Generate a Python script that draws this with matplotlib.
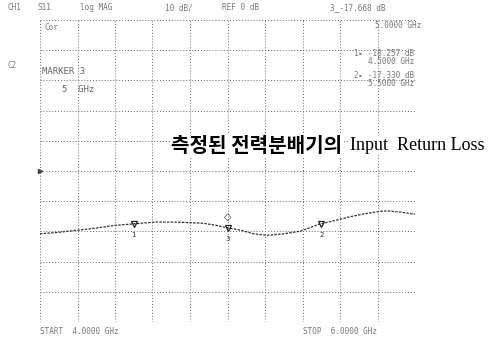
import matplotlib
matplotlib.use("Agg")
import matplotlib.pyplot as plt

# -----------------------------------------------------------------------------
# data (S11, 4 - 6 GHz)

freq_ghz = [4.00, 4.10, 4.20, 4.30, 4.40, 4.50, 4.62, 4.70, 4.80, 4.87, 4.94,
            5.00, 5.07, 5.14, 5.21, 5.30, 5.39, 5.49, 5.58, 5.65, 5.72, 5.80,
            5.85, 5.92, 6.00]
s11_db = [-20.8, -20.3, -19.6, -18.9, -18.0, -17.5, -16.9, -16.9, -17.1, -17.3,
          -18.0, -18.8, -19.6, -20.8, -21.3, -20.8, -19.9, -17.6, -16.3, -15.2,
          -14.3, -13.5, -13.2, -13.6, -14.3]

marker_ids = ["1", "2", "3"]
marker_freq = [4.5, 5.5, 5.0]
marker_db = [-17.5, -17.6, -18.8]

ref_level = 0
db_per_div = 10
start_ghz = 4.0
stop_ghz = 6.0

header = ["CH1", "S11", "log MAG", "10 dB/", "REF 0 dB", "3_-17.668 dB"]
marker_readout = ["1\u25b8 -18.257 dB", "4.5000 GHz", "2\u25b8 -17.330 dB", "5.5000 GHz"]
title_ko = "측정된 전력분배기의"
title_en = "Input  Return Loss"

W, H = 489, 340


def px(x, y):
    return x / W, 1 - y / H


fig = plt.figure(figsize=(W / 100, H / 100), dpi=100)
ax = fig.add_axes([40 / W, 1 - 322 / H, 375 / W, 302 / H])

# grid, 10 x 10 divisions
xt = [start_ghz + i * (stop_ghz - start_ghz) / 10 for i in range(11)]
yt = [ref_level + (i - 5) * db_per_div for i in range(11)]
for x in xt:
    ax.axvline(x, color="#666666", lw=0.7, ls=(0, (1, 2)))
for y in yt:
    ax.axhline(y, color="#666666", lw=0.7, ls=(0, (1, 2)))
ax.set_xlim(start_ghz, stop_ghz)
ax.set_ylim(yt[0], yt[-1])
ax.set_xticks([])
ax.set_yticks([])
for s in ax.spines.values():
    s.set_visible(False)

# trace
ax.plot(freq_ghz, s11_db, color="#333333", lw=0.9, ls=(0, (2, 1)))

# markers
for mid, f, d in zip(marker_ids, marker_freq, marker_db):
    ax.plot(f, d, marker="v", ms=5, mfc="none", mec="#222222", mew=0.9)
    ax.annotate(mid, (f, d), xytext=(0, -8), textcoords="offset points",
                ha="center", va="center", fontsize=5, color="#333333")
    if mid == "3":
        ax.annotate("\u25c7", (f, d), xytext=(0, 8), textcoords="offset points",
                    ha="center", va="center", fontsize=7, color="#222222")
# reference position arrow
ax.plot(start_ghz, ref_level, marker=">", ms=3, color="#444444", clip_on=False)

# instrument annotations
mono = dict(family="DejaVu Sans Mono", fontsize=5.5, color="#777777", va="center")
hx = [8, 38, 80, 165, 222, 330]
for x, t in zip(hx, header):
    fig.text(*px(x, 8), t, **mono)
fig.text(*px(375, 25), "5.0000 GHz", **mono)
fig.text(*px(45, 27), "Cor", **mono)
fig.text(*px(8, 66), "C2", **mono)
fig.text(*px(42, 71), "MARKER 3", fontsize=6.5, family="DejaVu Sans Mono",
         color="#666666", va="center")
fig.text(*px(62, 89), "5  GHz", fontsize=6.5, family="DejaVu Sans Mono",
         color="#666666", va="center")
for y, t in zip([53, 61, 76, 84], marker_readout):
    fig.text(*px(414, y), t, ha="right", **mono)

fig.text(*px(40, 332), "START  4.0000 GHz", **mono)
fig.text(*px(303, 332), "STOP  6.0000 GHz", **mono)

# overlaid caption
fig.text(*px(171, 145), title_ko, family=["Noto Sans CJK KR"], fontweight="bold",
         fontsize=14.5, color="black", va="center",
         bbox=dict(facecolor="white", edgecolor="none", pad=1))
fig.text(*px(350, 145), title_en, family=["Liberation Serif"], fontsize=13,
         color="black", va="center",
         bbox=dict(facecolor="white", edgecolor="none", pad=1))

fig.savefig("out.png", dpi=100)
